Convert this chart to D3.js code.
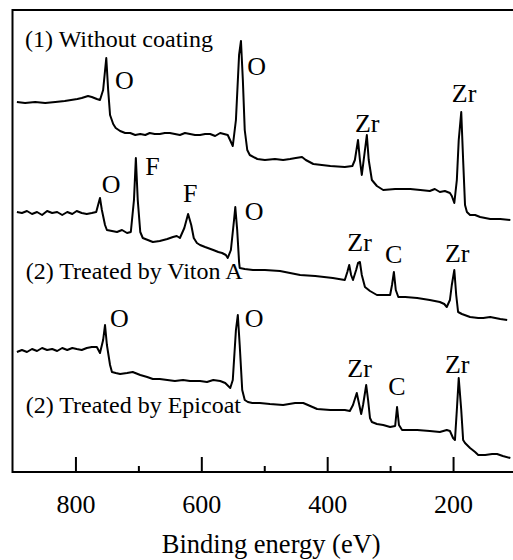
<!DOCTYPE html>
<html>
<head>
<meta charset="utf-8">
<script src="https://cdnjs.cloudflare.com/ajax/libs/d3/7.8.5/d3.min.js"></script>
<style>
  body { margin: 0; background: #fff; }
  svg { display: block; }
  text { font-family: 'Liberation Serif', 'Times New Roman', serif; fill: #000; }
  .line { fill: none; stroke: #000; stroke-width: 2; stroke-linejoin: round; }
</style>
</head>
<body>
<script>
// binding energy (eV) and intensity (a.u., stacked)
const energy1 = [893, 880, 864, 848, 832, 817, 797, 790, 780, 774, 766, 761, 756, 751, 748, 745, 740, 736, 729, 721, 713, 705, 697, 689, 682, 674, 666, 658, 650, 642, 634, 626, 618, 610, 602, 594, 586, 578, 570, 558, 550, 545, 540, 537, 534, 531, 527, 523, 511, 499, 483, 470, 459, 450, 440, 434, 422, 395, 372, 360, 356, 351, 348, 345, 341, 337, 334, 329, 321, 311, 292, 268, 252, 237, 229, 221, 213, 205, 202, 198, 194, 191, 187, 184, 181, 178, 173, 165, 157, 141, 125, 109]
const counts1 = [370, 369, 370, 369, 370, 371, 373, 374, 376, 375, 373, 372, 382, 414, 382, 357, 348, 344, 341, 339, 339, 337, 338, 337, 339, 338, 338, 339, 339, 338, 337, 339, 338, 337, 337, 338, 338, 336, 339, 337, 326, 352, 417, 431, 392, 342, 322, 317, 313, 312, 313, 312, 313, 314, 315, 312, 308, 306, 305, 306, 312, 332, 312, 297, 317, 337, 312, 292, 286, 282, 283, 283, 282, 281, 283, 280, 281, 279, 276, 269, 292, 332, 360, 312, 267, 260, 257, 257, 255, 253, 253, 252]

const energy2 = [893, 885, 877, 869, 861, 853, 845, 837, 829, 821, 813, 805, 798, 790, 782, 774, 767, 764, 761, 758, 753, 750, 742, 734, 726, 718, 712, 707, 704, 701, 697, 693, 685, 677, 666, 654, 645, 639, 634, 627, 621, 616, 612, 607, 602, 594, 581, 573, 567, 561, 558, 553, 548, 546, 543, 540, 539, 531, 518, 499, 475, 459, 443, 419, 391, 372, 368, 365, 362, 359, 354, 351, 348, 345, 340, 332, 321, 308, 300, 297, 294, 291, 287, 276, 257, 237, 221, 214, 210, 205, 202, 198, 195, 192, 186, 173, 160, 152, 141, 125, 114]
const counts2 = [260, 259, 261, 258, 260, 257, 261, 259, 260, 257, 260, 258, 261, 259, 258, 259, 260, 267, 274, 262, 247, 242, 241, 240, 242, 239, 240, 272, 314, 272, 240, 234, 232, 230, 231, 233, 235, 236, 234, 244, 258, 247, 234, 229, 227, 225, 222, 220, 219, 217, 214, 222, 252, 265, 242, 210, 204, 203, 202, 202, 201, 199, 197, 196, 194, 192, 200, 207, 197, 192, 202, 209, 210, 197, 185, 181, 177, 177, 177, 187, 200, 182, 175, 175, 174, 172, 170, 168, 165, 172, 187, 202, 177, 160, 158, 155, 154, 154, 155, 153, 152]

const energy3 = [893, 885, 877, 869, 861, 853, 845, 837, 829, 821, 813, 805, 798, 790, 782, 774, 766, 761, 756, 753, 750, 745, 742, 736, 729, 718, 709, 697, 686, 677, 666, 654, 642, 629, 618, 602, 591, 581, 570, 562, 554, 550, 545, 542, 539, 535, 531, 526, 519, 507, 491, 470, 451, 438, 427, 416, 395, 372, 364, 359, 353, 349, 346, 343, 338, 335, 332, 329, 321, 311, 300, 292, 289, 286, 281, 257, 237, 221, 210, 205, 200, 197, 194, 191, 187, 184, 181, 173, 165, 160, 149, 138, 130, 121, 109]
const counts3 = [120, 122, 120, 123, 121, 124, 122, 123, 121, 124, 122, 124, 123, 122, 124, 125, 125, 119, 132, 147, 127, 107, 100, 99, 98, 99, 100, 97, 95, 93, 93, 92, 91, 92, 91, 91, 90, 92, 91, 89, 84, 92, 142, 157, 127, 82, 72, 70, 69, 69, 68, 67, 69, 69, 66, 63, 62, 62, 61, 67, 79, 67, 58, 67, 87, 72, 54, 50, 48, 47, 45, 46, 65, 47, 42, 42, 41, 40, 42, 41, 34, 32, 62, 94, 62, 32, 29, 24, 20, 17, 17, 18, 18, 16, 14]

const majorTicks = [800, 600, 400, 200]
const minorTicks = [700, 500, 300]

const spectrumNames = ['(1) Without coating', '(2) Treated by Viton A', '(2) Treated by Epicoat']
const nameEnergy = [880, 879, 879]
const nameCounts = [425, 193, 59]

const peakLabels = ['O', 'O', 'Zr', 'Zr', 'O', 'F', 'F', 'O', 'Zr', 'C', 'Zr', 'O', 'O', 'Zr', 'C', 'Zr']
const peakEnergy = [737, 527, 356, 202, 758, 689, 629, 531, 368, 308, 213, 745, 531, 368, 303, 213]
const peakCounts = [383, 397, 340, 370, 279, 297, 270, 252, 221, 209, 210, 145, 145, 95, 77, 99]

function drawChart() {
  const svgWidth = 513, svgHeight = 560
  const left = 12.5, top = 10, bottom = 472

  const svg = d3.select('body').append('svg')
    .attr('width', svgWidth)
    .attr('height', svgHeight)

  const x = d3.scaleLinear().domain([900, 100]).range([left, 516])
  const y = d3.scaleLinear().domain([0, 462]).range([bottom, top])

  const line = d3.line()
    .x(function(d) { return x(d[0]) })
    .y(function(d) { return y(d[1]) })

  const spectra = [
    d3.zip(energy1, counts1),
    d3.zip(energy2, counts2),
    d3.zip(energy3, counts3)
  ]

  svg.selectAll('.line')
    .data(spectra)
    .enter().append('path')
    .attr('class', 'line')
    .attr('d', line)

  // frame: top, left, bottom (right edge cut off in the figure)
  svg.append('path')
    .attr('d', 'M' + svgWidth + ',' + top + 'H' + left + 'V' + bottom + 'H' + svgWidth)
    .attr('fill', 'none')
    .attr('stroke', '#000')
    .attr('stroke-width', 2)

  const xAxis = svg.append('g')
    .attr('transform', 'translate(0,' + bottom + ')')
    .call(d3.axisBottom(x)
      .tickValues(majorTicks)
      .tickSize(-15)
      .tickSizeOuter(0)
      .tickPadding(23)
      .tickFormat(d3.format('d')))
  xAxis.select('.domain').remove()
  xAxis.selectAll('line').attr('stroke-width', 2)
  xAxis.selectAll('text')
    .attr('font-family', null)
    .attr('font-size', 26)

  const xMinor = svg.append('g')
    .attr('transform', 'translate(0,' + bottom + ')')
    .call(d3.axisBottom(x)
      .tickValues(minorTicks)
      .tickSize(-6)
      .tickFormat(''))
  xMinor.select('.domain').remove()
  xMinor.selectAll('line').attr('stroke-width', 2)

  svg.append('text')
    .attr('x', x(500) + 7)
    .attr('y', 553)
    .attr('text-anchor', 'middle')
    .attr('font-size', 26.5)
    .text('Binding energy (eV)')

  svg.selectAll('.name')
    .data(spectrumNames)
    .enter().append('text')
    .attr('class', 'name')
    .attr('x', function(d, i) { return x(nameEnergy[i]) })
    .attr('y', function(d, i) { return y(nameCounts[i]) })
    .attr('font-size', 24)
    .text(function(d) { return d })

  svg.selectAll('.peak')
    .data(peakLabels)
    .enter().append('text')
    .attr('class', 'peak')
    .attr('x', function(d, i) { return x(peakEnergy[i]) })
    .attr('y', function(d, i) { return y(peakCounts[i]) })
    .attr('font-size', 26)
    .text(function(d) { return d })
}

drawChart()
</script>
</body>
</html>
